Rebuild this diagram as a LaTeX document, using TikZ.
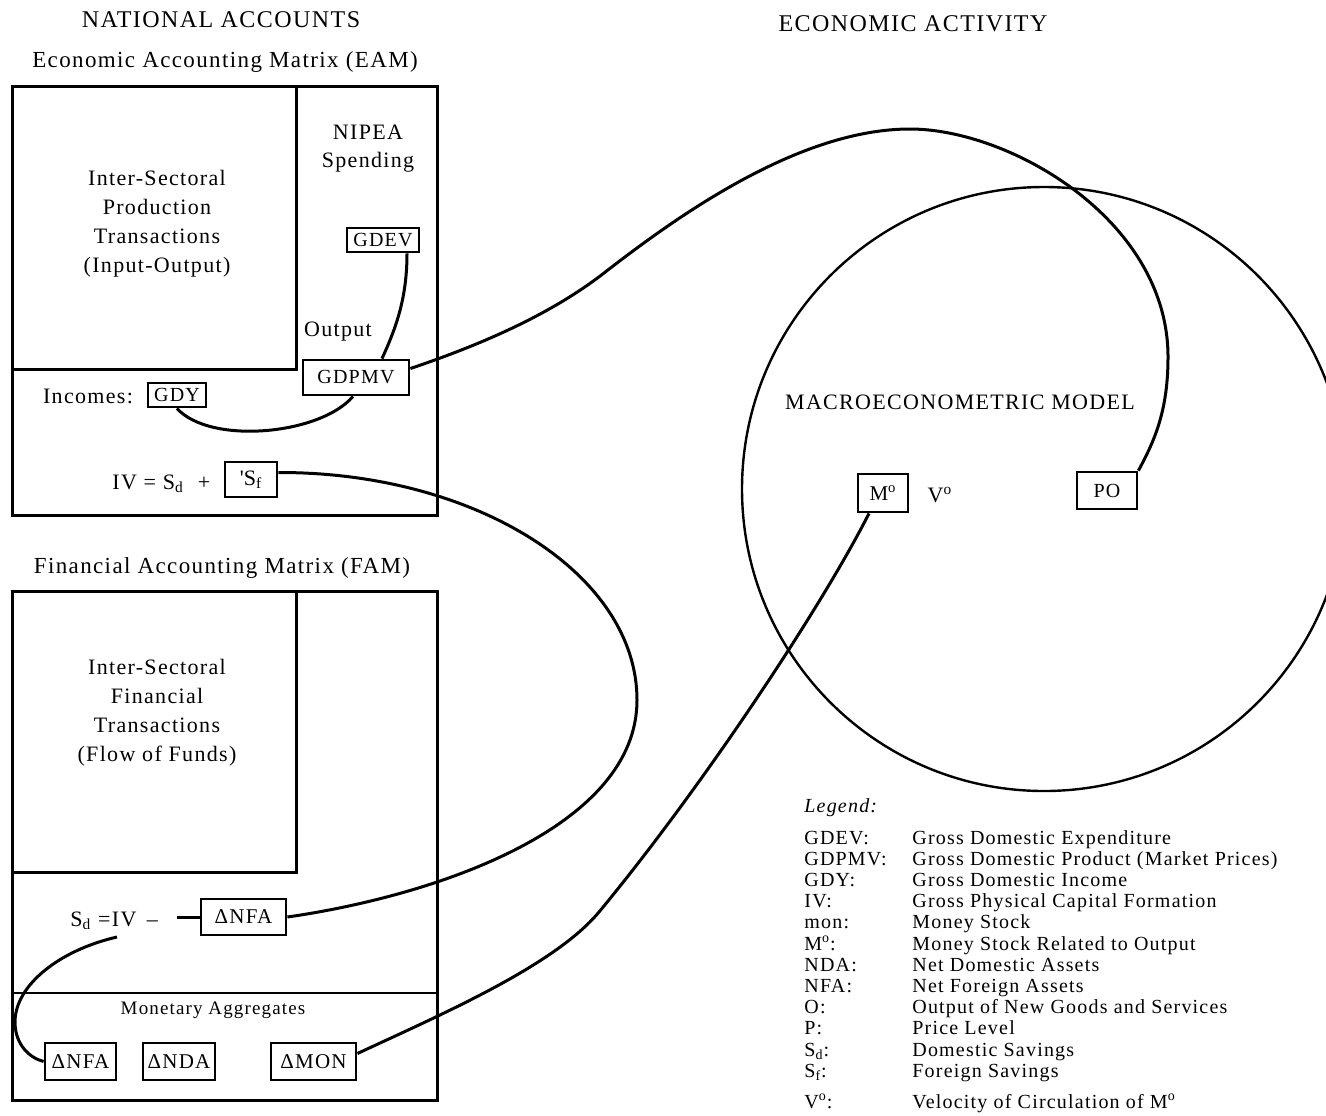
\documentclass[tikz,border=0pt]{standalone}
\usepackage{fontspec}
\setmainfont{Liberation Serif}[LetterSpace=6]
\usetikzlibrary{calc}
\begin{document}
\begin{tikzpicture}[x=0.5pt,y=-0.5pt,
  bigbox/.style={draw,line width=1.5pt,inner sep=0pt},
  vbox/.style={draw,line width=1.4pt,inner sep=0pt,font=\fontsize{10}{12}\selectfont},
  link/.style={line width=1.5pt},
  titletxt/.style={inner sep=0pt,font=\fontsize{12}{14}\selectfont},
  headtxt/.style={inner sep=0pt,font=\fontsize{11.5}{14}\selectfont},
  bodytxt/.style={inner sep=0pt,align=center,font=\fontsize{11}{14.5}\selectfont},
  smalltxt/.style={inner sep=0pt,font=\fontsize{9.5}{12}\selectfont},
  legtxt/.style={inner sep=0pt,anchor=base west,font=\fontsize{10}{12}\selectfont}
]
\useasboundingbox (0,0) rectangle (1326,1115);
\clip (0,0) rectangle (1326,1115);

% titles
\node[titletxt] (natacc) at (221,20) {NATIONAL ACCOUNTS};
\node[titletxt] (ecoact) at (913,24) {ECONOMIC ACTIVITY};
\node[headtxt] (eamhead) at (225,62) {Economic Accounting Matrix (EAM)};
\node[headtxt] (famhead) at (222,568) {Financial Accounting Matrix (FAM)};

% EAM
\node[bigbox,minimum width=212.5pt,minimum height=214.5pt] (eam) at (224.5,300.5) {};
\node[bigbox,minimum width=142pt,minimum height=141.5pt] (eamin) at (154,227.5) {};
\node[bodytxt] (prodtxt) at (157,223.5) {Inter-Sectoral\\Production\\Transactions\\(Input-Output)};
\node[bodytxt,font=\fontsize{11}{14}\selectfont] (nipea) at (368,149) {NIPEA\\Spending};
\node[vbox,minimum width=36pt,minimum height=12pt] (gdev) at (383,240) {GDEV};
\node[bodytxt] (output) at (338,332) {Output};
\node[vbox,minimum width=53pt,minimum height=17.5pt] (gdpmv) at (356,377.5) {GDPMV};
\node[bodytxt] (incomes) at (88,396) {Incomes:};
\node[vbox,minimum width=29pt,minimum height=12pt] (gdy) at (177,395) {GDY};
\node[bodytxt,anchor=base west] (ivsd) at (112,489) {IV = S\textsubscript{d}\hspace{7pt}+};
\node[vbox,font=\fontsize{11}{12}\selectfont,minimum width=26pt,minimum height=17.5pt] (sf) at (251,479.5) {\textquotesingle S\textsubscript{f}};

% FAM
\node[bigbox,minimum width=212.5pt,minimum height=254.5pt] (fam) at (224.5,845.5) {};
\node[bigbox,minimum width=142pt,minimum height=140.5pt] (famin) at (154,731.5) {};
\node[bodytxt] (fintxt) at (157,712.5) {Inter-Sectoral\\Financial\\Transactions\\(Flow of Funds)};
\draw[line width=0.9pt] (fam.west |- 0,993) -- (fam.east |- 0,993);
\node[bodytxt,anchor=base west] (sdiv) at (70,926) {S\textsubscript{d} =IV \,–};
\node[vbox,font=\fontsize{10.5}{12}\selectfont,minimum width=42.5pt,minimum height=18pt] (nfa1) at (243.5,917) {ΔNFA};
\node[smalltxt] (monagg) at (213,1010) {Monetary Aggregates};
\node[vbox,font=\fontsize{10.5}{12}\selectfont,minimum width=35.5pt,minimum height=18.5pt] (nfa2) at (80.5,1061.5) {ΔNFA};
\node[vbox,font=\fontsize{10.5}{12}\selectfont,minimum width=36pt,minimum height=18.5pt] (nda) at (179,1061.5) {ΔNDA};
\node[vbox,font=\fontsize{10.5}{12}\selectfont,minimum width=42.5pt,minimum height=18.5pt] (mon) at (313.5,1061.5) {ΔMON};

% macroeconometric model
\node[draw,circle,line width=1.2pt,minimum size=302pt,inner sep=0pt] (macro) at (1044,489) {};
\node[bodytxt] (macrotxt) at (960,402) {MACROECONOMETRIC MODEL};
\node[vbox,font=\fontsize{10.5}{12}\selectfont,minimum width=25pt,minimum height=19pt] (mo) at (883,493) {M\textsuperscript{o}};
\node[bodytxt] (vo) at (940,495) {V\textsuperscript{o}};
\node[vbox,minimum width=30pt,minimum height=18.5pt] (po) at (1107,490.5) {PO};

% legend
\node[legtxt,font=\fontsize{10}{12}\itshape] (leghead) at (804,812) {Legend:};
\node[legtxt] (t1) at (804,844) {GDEV:};
\node[legtxt] (d1) at (912,844) {Gross Domestic Expenditure};
\node[legtxt] (t2) at (804,865.2) {GDPMV:};
\node[legtxt] (d2) at (912,865.2) {Gross Domestic Product (Market Prices)};
\node[legtxt] (t3) at (804,886.4) {GDY:};
\node[legtxt] (d3) at (912,886.4) {Gross Domestic Income};
\node[legtxt] (t4) at (804,907.6) {IV:};
\node[legtxt] (d4) at (912,907.6) {Gross Physical Capital Formation};
\node[legtxt] (t5) at (804,928.8) {mon:};
\node[legtxt] (d5) at (912,928.8) {Money Stock};
\node[legtxt] (t6) at (804,950) {M\textsuperscript{o}:};
\node[legtxt] (d6) at (912,950) {Money Stock Related to Output};
\node[legtxt] (t7) at (804,971.2) {NDA:};
\node[legtxt] (d7) at (912,971.2) {Net Domestic Assets};
\node[legtxt] (t8) at (804,992.4) {NFA:};
\node[legtxt] (d8) at (912,992.4) {Net Foreign Assets};
\node[legtxt] (t9) at (804,1013.6) {O:};
\node[legtxt] (d9) at (912,1013.6) {Output of New Goods and Services};
\node[legtxt] (t10) at (804,1034.8) {P:};
\node[legtxt] (d10) at (912,1034.8) {Price Level};
\node[legtxt] (t11) at (804,1056) {S\textsubscript{d}:};
\node[legtxt] (d11) at (912,1056) {Domestic Savings};
\node[legtxt] (t12) at (804,1077.2) {S\textsubscript{f}:};
\node[legtxt] (d12) at (912,1077.2) {Foreign Savings};
\node[legtxt] (t13) at (804,1108) {V\textsuperscript{o}:};
\node[legtxt] (d13) at (912,1108) {Velocity of Circulation of M\textsuperscript{o}};

% connectors
\draw[link] ($(gdev.south)+(24,0)$) .. controls (407,300) and (395,330) .. ($(gdpmv.north)+(26,0)$);
\draw[link] ($(gdpmv.south)+(-3,0)$) .. controls (320,435) and (210,445) .. (gdy.south);
\draw[link] ($(gdpmv.east)+(0,-9)$) .. controls (480,345) and (550,315) .. (604,273)
  .. controls (680,214) and (800,129) .. (910,129)
  .. controls (1010,129) and (1168,220) .. (1168,357)
  .. controls (1168,410) and (1155,440) .. (po.north east);
\draw[link] ($(sf.east)+(0,-7)$) .. controls (476,472) and (637,574) .. (637,700)
  .. controls (637,826) and (440,895) .. (nfa1.east);
\draw[link] ($(mo.south)+(-14,0)$) .. controls (820,610) and (700,790) .. (599,912)
  .. controls (554,966) and (440,1015) .. ($(mon.east)+(0,-8)$);
\coordinate (dashend) at (177,917);
\draw[link] (dashend) -- (nfa1.west);
\coordinate (sdstart) at (117,937);
\draw[link] (sdstart) .. controls (60,950) and (15,985) .. (15,1022)
  .. controls (15,1045) and (30,1058) .. (nfa2.west);
\end{tikzpicture}
\end{document}
